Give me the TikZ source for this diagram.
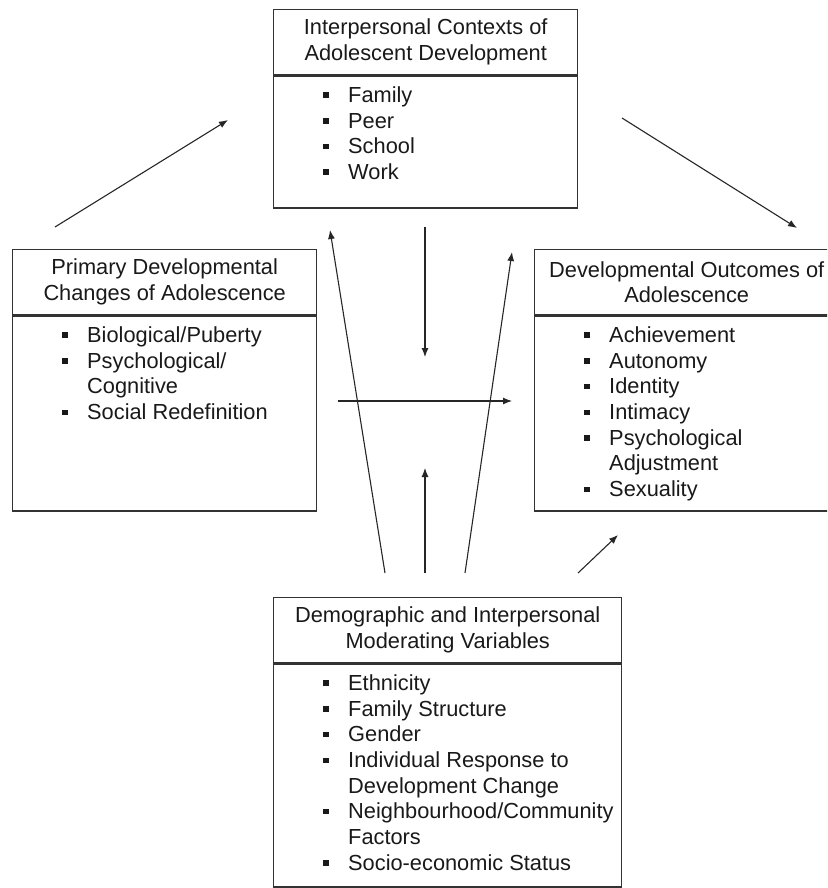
\documentclass[tikz,border=0pt]{standalone}
\usepackage{fontspec}
\setmainfont{Liberation Sans}
\usetikzlibrary{positioning,arrows.meta}

\newcommand{\sq}{\makebox[25pt][l]{\rule[4.5pt]{5.5pt}{5.5pt}}}
\newcommand{\nosq}{\hspace*{25pt}}

\tikzset{
    hd/.style = {draw=black!80, line width=1.4pt, minimum height=65pt, align=center, inner sep=0pt,
        font=\fontsize{21.8}{25.7}\selectfont, text=black!90},
    bd/.style = {draw=black!80, line width=1.4pt, inner sep=0pt},
    lst/.style = {align=left, inner sep=0pt, font=\fontsize{21.8}{25.7}\selectfont, text=black!90},
    arr/.style = {draw=black!85, line width=1.1pt, -{Latex[length=9pt,width=7pt]}}
}

\begin{document}
\begin{tikzpicture}[x = 1pt, y = -1pt]
    \useasboundingbox (0,0) rectangle (827,888);
    \clip (0,0) rectangle (827,888);

    \node[hd, minimum width=304pt, anchor=north west] (CTX) at (273,9) {Interpersonal Contexts of\\Adolescent Development};
    \node[bd, minimum width=304pt, minimum height=132pt, anchor=north] (CTXB) at (CTX.south) {};
    \node[lst, below right=11pt and 50pt of CTX.south west] (CTXL) {\sq Family\\\sq Peer\\\sq School\\\sq Work};

    \node[hd, minimum width=304pt, anchor=north west] (PRIM) at (12,249) {Primary Developmental\\Changes of Adolescence};
    \node[bd, minimum width=304pt, minimum height=195pt, anchor=north] (PRIMB) at (PRIM.south) {};
    \node[lst, below right=11pt and 50pt of PRIM.south west] (PRIML) {\sq Biological/Puberty\\\sq Psychological/\\\nosq Cognitive\\\sq Social Redefinition};

    \node[hd, minimum width=304pt, anchor=north west] (OUT) at (534,249) {Developmental Outcomes of\\Adolescence};
    \node[bd, minimum width=304pt, minimum height=195pt, anchor=north] (OUTB) at (OUT.south) {};
    \node[lst, below right=11pt and 50pt of OUT.south west] (OUTL) {\sq Achievement\\\sq Autonomy\\\sq Identity\\\sq Intimacy\\\sq Psychological\\\nosq Adjustment\\\sq Sexuality};

    \node[hd, minimum width=348pt, anchor=north west] (MOD) at (273,597) {Demographic and Interpersonal\\Moderating Variables};
    \node[bd, minimum width=348pt, minimum height=223pt, anchor=north] (MODB) at (MOD.south) {};
    \node[lst, below right=11pt and 50pt of MOD.south west] (MODL) {\sq Ethnicity\\\sq Family Structure\\\sq Gender\\\sq Individual Response to\\\nosq Development Change\\\sq Neighbourhood/Community\\\nosq Factors\\\sq Socio-economic Status};

    \coordinate (A1) at (55,227);  \coordinate (A2) at (228,120);
    \coordinate (B1) at (622,118); \coordinate (B2) at (797,228);
    \coordinate (C1) at (385,573); \coordinate (C2) at (330,230);
    \coordinate (D1) at (465,573); \coordinate (D2) at (512,252);
    \coordinate (E1) at (425,227); \coordinate (E2) at (425,357);
    \coordinate (F1) at (338,401); \coordinate (F2) at (512,401);
    \coordinate (G1) at (425,573); \coordinate (G2) at (425,468);
    \coordinate (H1) at (578,573); \coordinate (H2) at (618,535);

    \draw[arr] (A1) -- (A2);
    \draw[arr] (B1) -- (B2);
    \draw[arr] (C1) -- (C2);
    \draw[arr] (D1) -- (D2);
    \draw[arr] (E1) -- (E2);
    \draw[arr] (F1) -- (F2);
    \draw[arr] (G1) -- (G2);
    \draw[arr] (H1) -- (H2);
\end{tikzpicture}
\end{document}
